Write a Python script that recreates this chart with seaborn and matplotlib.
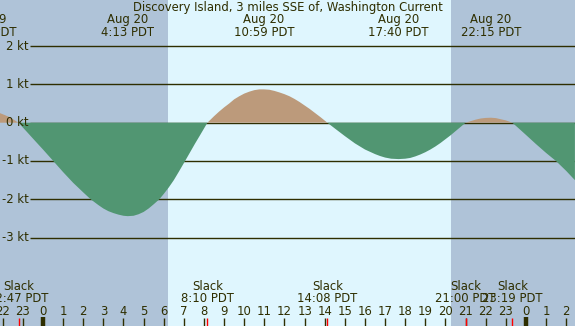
import numpy as np
import pandas as pd
import matplotlib
matplotlib.use("Agg")
import matplotlib.pyplot as plt
import seaborn as sns

# ---- data (hours from Aug 20 00:00 PDT, current in knots) ----
hours = [-2.14, -1.9, -1.64, -1.22,
         -0.8, -0.35, 0.0, 0.51, 1.0, 1.5, 2.0, 2.37, 2.75, 3.0, 3.25, 3.5, 3.75, 4.0, 4.21,
         4.5, 4.75, 5.0, 5.25, 5.5, 5.78, 6.0, 6.25, 6.5, 6.75, 7.06, 7.3, 7.55, 7.8, 8.17,
         8.5, 8.75, 9.0, 9.25, 9.5, 9.75, 10.0, 10.25, 10.5, 10.75, 10.98,
         11.25, 11.5, 11.75, 12.0, 12.25, 12.5, 12.75, 13.0, 13.25, 13.5, 13.8, 14.13,
         14.5, 15.0, 15.5, 16.0, 16.5, 16.75, 17.0, 17.3, 17.67,
         18.0, 18.25, 18.5, 18.75, 19.0, 19.25, 19.5, 19.75, 20.0, 20.25, 20.5, 20.75, 21.0,
         21.25, 21.5, 21.75, 22.0, 22.25, 22.5, 22.75, 23.0, 23.32,
         23.6, 24.0, 24.5, 25.0, 25.49, 26.0, 26.43]
speed = [0.25, 0.20, 0.14, 0.0,
         -0.24, -0.50, -0.70, -1.0, -1.29, -1.57, -1.82, -2.0, -2.15, -2.24, -2.31, -2.36, -2.40, -2.43, -2.44,
         -2.43, -2.39, -2.33, -2.24, -2.13, -2.0, -1.86, -1.69, -1.50, -1.28, -1.0, -0.78, -0.55, -0.33, 0.0,
         0.17, 0.29, 0.40, 0.50, 0.61, 0.69, 0.76, 0.81, 0.85, 0.87, 0.87,
         0.86, 0.83, 0.79, 0.745, 0.69, 0.62, 0.54, 0.45, 0.36, 0.26, 0.14, 0.0,
         -0.15, -0.35, -0.54, -0.70, -0.82, -0.87, -0.91, -0.94, -0.95,
         -0.94, -0.92, -0.88, -0.83, -0.77, -0.70, -0.62, -0.53, -0.43, -0.33, -0.22, -0.11, 0.0,
         0.04, 0.08, 0.11, 0.125, 0.13, 0.12, 0.09, 0.06, 0.0,
         -0.13, -0.32, -0.56, -0.79, -1.0, -1.26, -1.5]

# max current events (top labels)
event_hours = [-2.83, 4.217, 10.983, 17.667, 22.25]
event_dates = ["Aug 19", "Aug 20", "Aug 20", "Aug 20", "Aug 20"]
event_times = ["21:10 PDT", "4:13 PDT", "10:59 PDT", "17:40 PDT", "22:15 PDT"]

# slack events (bottom labels)
slack_hours = [-1.217, 8.167, 14.133, 21.0, 23.317]
slack_times = ["22:47 PDT", "8:10 PDT", "14:08 PDT", "21:00 PDT", "23:19 PDT"]

kt_levels = [2, 1, 0, -1, -2, -3]
sunrise, sunset = 6.21, 20.27

title = "Discovery Island, 3 miles SSE of, Washington Current"

# ---- colours ----
night = "#afc3d8"
day = "#dff6fe"
flood = "#bc9a7b"
ebb = "#519672"
ink = "#2e2e00"

# pixel -> data helpers (43 px = midnight, 20.125 px/hour, 0 kt at 122.7 px, 38.3 px/kt)
PXH, X0 = 20.125, 43.0
PXK, Y0 = 38.3, 122.7
def hx(px):
    return (px - X0) / PXH
def ky(py):
    return (Y0 - py) / PXK

df = pd.DataFrame({"hour": hours, "kt": speed})

sns.set_theme(style="white")
plt.rcParams["font.family"] = ["DejaVu Sans"]
fs = 8.4

fig = plt.figure(figsize=(5.75, 3.26), dpi=100)
ax = fig.add_axes([0, 0, 1, 1])
ax.set_xlim(hx(0), hx(575))
ax.set_ylim(ky(326), ky(0))
ax.axis("off")

# day / night background
ax.axvspan(hx(0), sunrise, color=night, zorder=0, lw=0)
ax.axvspan(sunrise, sunset, color=day, zorder=0, lw=0)
ax.axvspan(sunset, hx(575), color=night, zorder=0, lw=0)

# knot grid lines + labels
ax.hlines(kt_levels, hx(30), hx(575), color=ink, lw=1.0, zorder=1)
for k in kt_levels:
    ax.text(hx(28.5), k, f"{k} kt", ha="right", va="center", fontsize=fs, color=ink, zorder=3)

# current curve
ax.fill_between(df["hour"], df["kt"], 0, where=df["kt"] >= 0, color=flood, lw=0, zorder=2)
ax.fill_between(df["hour"], df["kt"], 0, where=df["kt"] <= 0, color=ebb, lw=0, zorder=2)

# title
ax.text(hx(287.5), ky(7.5), title, ha="center", va="center", fontsize=fs, color=ink)

# max current labels
for h, d, t in zip(event_hours, event_dates, event_times):
    ax.text(h, ky(20), d, ha="center", va="center", fontsize=fs, color=ink)
    ax.text(h, ky(32.5), t, ha="center", va="center", fontsize=fs, color=ink)

# slack labels
for h, t in zip(slack_hours, slack_times):
    ax.text(h, ky(287), "Slack", ha="center", va="center", fontsize=fs, color=ink)
    ax.text(h, ky(298.5), t, ha="center", va="center", fontsize=fs, color=ink)

# hour ticks + labels
for h in range(-2, 27):
    if h % 24 == 0:
        ax.vlines(h, ky(326), ky(317), color=ink, lw=3.2, zorder=3)
    else:
        ax.vlines(h, ky(326), ky(318), color=ink, lw=1.0, zorder=3)
    ax.text(h, ky(311.5), str(h % 24), ha="center", va="center", fontsize=fs, color=ink)
ax.vlines(slack_hours, ky(326), ky(318), color="red", lw=1.0, zorder=4)

fig.savefig("out.png", dpi=100)
